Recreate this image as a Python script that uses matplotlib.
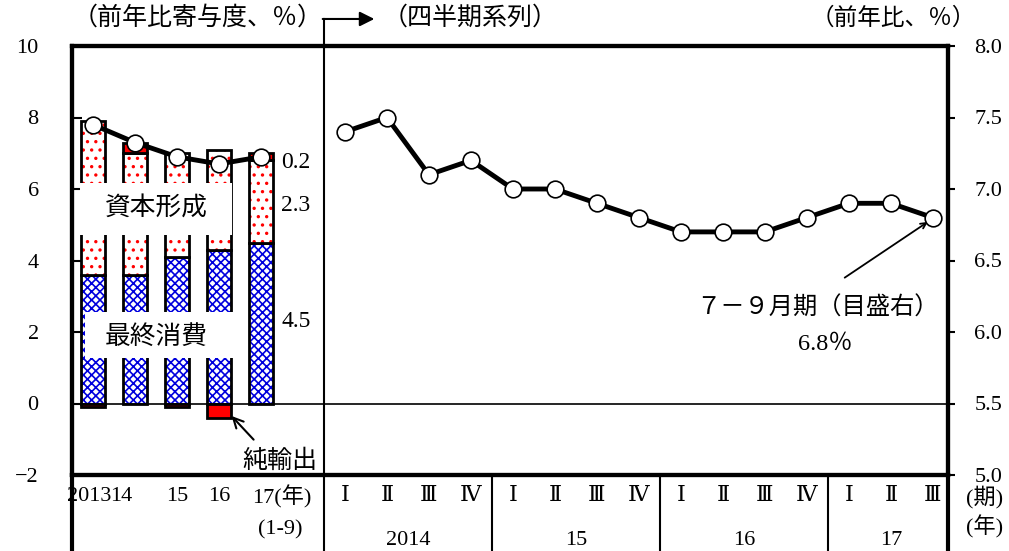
import numpy as np
import matplotlib.pyplot as plt
import matplotlib.transforms as mtransforms
from matplotlib.patches import Rectangle

plt.rcParams['font.family'] = ['Liberation Serif', 'DejaVu Serif', 'Noto Sans CJK JP']
plt.rcParams['hatch.linewidth'] = 1.2

# annual contributions (left panel)
years = ['2013', '14', '15', '16', '17(年)']
consumption = [3.6, 3.6, 4.1, 4.3, 4.5]
capital = [4.3, 3.4, 2.9, 2.8, 2.3]
net_exports = [-0.1, 0.3, -0.1, -0.4, 0.2]
gdp_annual = [7.8, 7.3, 6.9, 6.7, 6.9]

# quarterly growth (right panel, right axis)
quarters = ['Ⅰ', 'Ⅱ', 'Ⅲ', 'Ⅳ', 'Ⅰ', 'Ⅱ', 'Ⅲ', 'Ⅳ', 'Ⅰ', 'Ⅱ', 'Ⅲ', 'Ⅳ', 'Ⅰ', 'Ⅱ', 'Ⅲ']
gdp_quarterly = [7.4, 7.5, 7.1, 7.2, 7.0, 7.0, 6.9, 6.8, 6.7, 6.7, 6.7, 6.8, 6.9, 6.9, 6.8]
q_years = ['2014', '15', '16', '17']

xa = np.arange(len(years))
xq = np.arange(len(gdp_quarterly)) + 6

fig = plt.figure(figsize=(10.09, 5.51), dpi=100)
ax = fig.add_axes([72/1009, 76/551, 876/1009, 429/551])
ax2 = ax.twinx()
trans = mtransforms.blended_transform_factory(ax.transData, ax.transAxes)

cons = np.array(consumption)
cap = np.array(capital)
net = np.array(net_exports)
w = 0.58
ax.bar(xa, cons, w, color='white', edgecolor='#0000dd', hatch='xxxx', lw=0)
ax.bar(xa, cons, w, fill=False, edgecolor='k', lw=2)
ax.bar(xa, cap, w, bottom=cons, color='white', edgecolor='red', hatch='..', lw=0)
ax.bar(xa, cap, w, bottom=cons, fill=False, edgecolor='k', lw=2)
net_bottom = np.where(net > 0, cons + cap, 0)
ax.bar(xa, net, w, bottom=net_bottom, color='red', edgecolor='k', lw=2)

# white label boxes
ax.add_patch(Rectangle((-0.31, 4.71), 3.62, 1.46, facecolor='white', edgecolor='none', zorder=3))
ax.add_patch(Rectangle((-0.19, 1.27), 3.81, 1.29, facecolor='white', edgecolor='none', zorder=3))
ax.text(1.5, 5.47, '資本形成', ha='center', va='center', fontsize=18.5, zorder=4)
ax.text(1.5, 1.86, '最終消費', ha='center', va='center', fontsize=18.5, zorder=4)

ax.text(4.48, 6.75, '0.2', ha='left', va='center', fontsize=17)
ax.text(4.48, 5.55, '2.3', ha='left', va='center', fontsize=17)
ax.text(4.48, 2.28, '4.5', ha='left', va='center', fontsize=17)

ax.annotate('純輸出', xy=(3.3, -0.35), xytext=(4.45, -1.6), ha='center', va='center',
            fontsize=18, arrowprops=dict(arrowstyle='->', color='k', lw=1.5,
                                         shrinkA=0, shrinkB=0, relpos=(0.15, 1.4)))

ax.plot(xa, gdp_annual, '-o', color='k', lw=3.5, ms=12, mfc='white', mec='k', mew=1.2, zorder=6)
ax2.plot(xq, gdp_quarterly, '-o', color='k', lw=3.5, ms=12, mfc='white', mec='k', mew=1.2, zorder=6)

ax2.annotate('', xy=(19.88, 6.77), xytext=(17.9, 6.38),
             arrowprops=dict(arrowstyle='->', color='k', lw=1.3, shrinkA=0, shrinkB=0))
ax2.text(17.26, 6.17, '７－９月期（目盛右）', ha='center', va='center', fontsize=17.5)
ax2.text(17.43, 5.91, '6.8％', ha='center', va='center', fontsize=17.5)

ax.axhline(0, color='k', lw=1.2)

ax.set_xlim(-0.5, 20.36)
ax.set_ylim(-2, 10)
ax2.set_ylim(5, 8)
ax.set_xticks([])
ax.set_yticks(range(-2, 11, 2))
ax.set_yticklabels([str(v).replace('-', '−') for v in range(-2, 11, 2)])
r_ticks = np.arange(5.0, 8.01, 0.5)
ax2.set_yticks(r_ticks)
ax2.set_yticklabels(['%.1f' % v for v in r_ticks])
ax.tick_params(axis='y', direction='in', length=7, width=1.5, pad=24, labelsize=16)
ax2.tick_params(axis='y', direction='out', length=5, width=1.5, pad=14, labelsize=16)

for a in (ax, ax2):
    for s in a.spines.values():
        s.set_linewidth(3)

# panel divider with arrow on top
ax.plot([5.5, 5.5], [-0.18, 1.063], color='k', lw=1.5, transform=trans, clip_on=False)
ax.annotate('', xy=(6.7, 1.063), xytext=(5.47, 1.063), xycoords=trans, textcoords=trans,
            arrowprops=dict(arrowstyle='-|>', color='k', lw=1.5, mutation_scale=22,
                            shrinkA=0, shrinkB=0))

# separators in the label area
for xs, lw in [(-0.5, 3), (9.5, 1.5), (13.5, 1.5), (17.5, 1.5), (20.36, 3)]:
    ax.plot([xs, xs], [-0.18, 0], color='k', lw=lw, transform=trans, clip_on=False)

# category labels
lbl_x = [-0.1, 0.67, 2, 3, 4.5]
for x, t in zip(lbl_x, years):
    ax.text(x, -0.051, t, ha='center', va='center', fontsize=16, transform=trans)
ax.text(4.45, -0.128, '(1-9)', ha='center', va='center', fontsize=16, transform=trans)
for x, t in zip(xq, quarters):
    ax.text(x, -0.051, t, ha='center', va='center', fontsize=16, transform=trans)
for x, t in zip([7.5, 11.5, 15.5, 19], q_years):
    ax.text(x, -0.152, t, ha='center', va='center', fontsize=16, transform=trans)
ax.text(21.24, -0.051, '(期)', ha='center', va='center', fontsize=16, transform=trans)
ax.text(21.24, -0.121, '(年)', ha='center', va='center', fontsize=16, transform=trans)

# unit labels
ax.text(2.48, 1.065, '（前年比寄与度、％）', ha='center', va='center', fontsize=18, transform=trans)
ax.text(8.98, 1.065, '（四半期系列）', ha='center', va='center', fontsize=18, transform=trans)
ax.text(19.05, 1.065, '（前年比、％）', ha='center', va='center', fontsize=17, transform=trans)

fig.savefig('out.png', dpi=100)
